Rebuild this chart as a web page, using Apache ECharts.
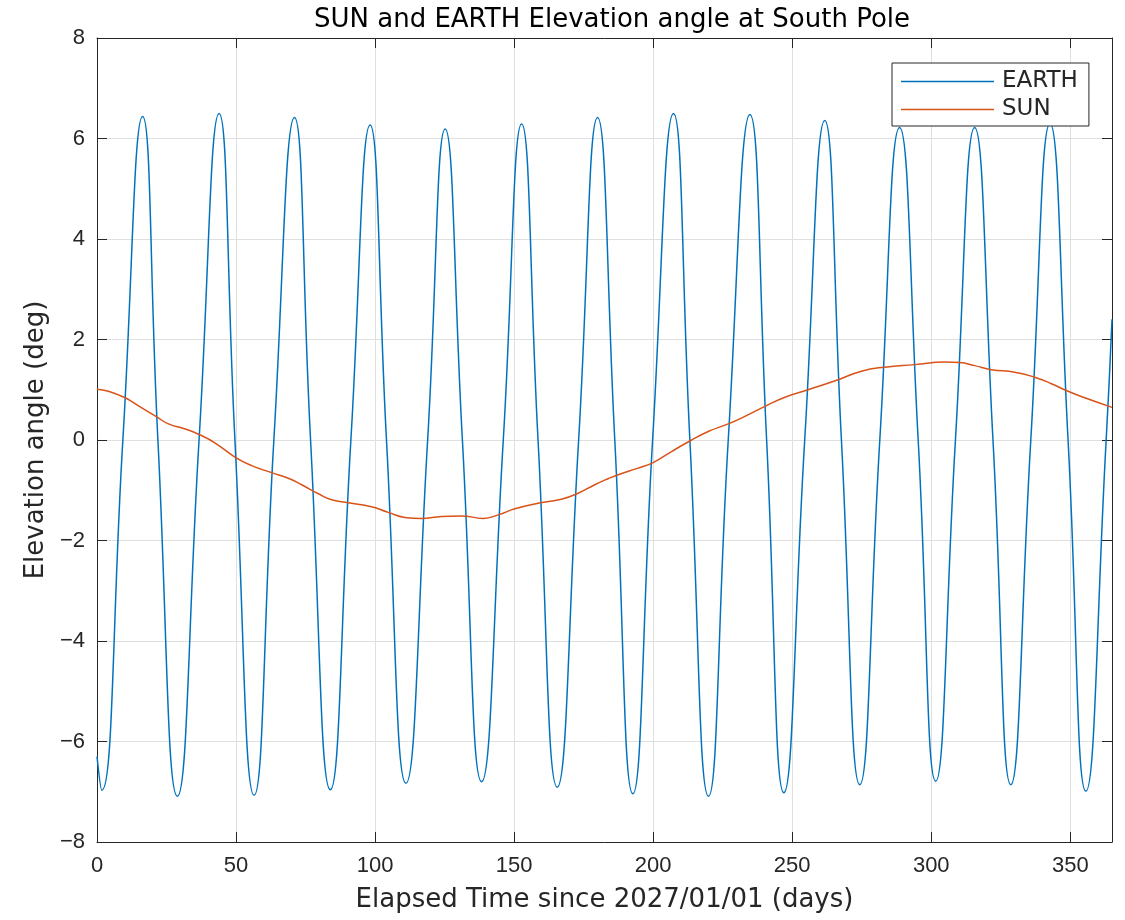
<!DOCTYPE html>
<html>
<head>
<meta charset="utf-8">
<script src="https://cdn.jsdelivr.net/npm/echarts@6/dist/echarts.min.js"></script>
<style>
html,body{margin:0;padding:0;background:#fff;}
#chart{width:1125px;height:920px;}
</style>
</head>
<body>
<div id="chart"></div>
<script>
// EARTH elevation angle (deg): [day, value] read at troughs, zero crossings and peaks
const earthDays = [0, 1.7, 9.3, 16.4, 21.9, 28.9, 36.7, 43.9, 49.6, 56.5, 63.6, 71.0, 76.8, 83.9, 91.3, 98.2, 104.1, 111.1, 118.9, 125.2, 131.4, 138.3, 146.1, 152.7, 158.6, 165.5, 173.2, 180.0, 186.2, 192.7, 199.8, 207.3, 213.2, 219.9, 227.0, 234.8, 240.8, 247.0, 254.5, 261.7, 267.7, 274.3, 281.5, 288.6, 295.3, 301.6, 308.7, 315.6, 322.2, 328.6, 335.8, 342.7, 349.2, 355.6, 362.9, 365];
const earthVals = [-6.3, -6.97, 0, 6.44, 0, -7.09, 0, 6.50, 0, -7.07, 0, 6.42, 0, -6.96, 0, 6.27, 0, -6.83, 0, 6.19, 0, -6.80, 0, 6.29, 0, -6.91, 0, 6.42, 0, -7.04, 0, 6.50, 0, -7.09, 0, 6.48, 0, -7.02, 0, 6.36, 0, -6.86, 0, 6.22, 0, -6.79, 0, 6.22, 0, -6.86, 0, 6.30, 0, -6.99, 0, 2.4];

// SUN elevation angle (deg)
const sunDays = [0, 4.1, 10.1, 14.9, 21.5, 25.7, 31.7, 37.1, 42.5, 49.6, 55.6, 62.8, 68.8, 73.6, 79.6, 84.4, 90.4, 98.7, 104.7, 110.7, 116.7, 123.9, 131.1, 138.9, 144.3, 150.3, 158.6, 167.0, 173.0, 179.0, 183.8, 187.4, 194.6, 200.0, 206.6, 213.2, 219.8, 227.0, 233.0, 240.2, 247.4, 255.7, 266.5, 274.9, 283.3, 294.1, 304.9, 310.2, 315.6, 321.6, 330.0, 337.2, 343.2, 349.2, 355.2, 365];
const sunVals = [1.01, 0.97, 0.84, 0.68, 0.46, 0.32, 0.22, 0.10, -0.06, -0.34, -0.51, -0.65, -0.76, -0.89, -1.07, -1.19, -1.25, -1.33, -1.44, -1.54, -1.56, -1.52, -1.51, -1.56, -1.49, -1.37, -1.26, -1.18, -1.06, -0.89, -0.77, -0.69, -0.56, -0.45, -0.23, -0.02, 0.17, 0.32, 0.47, 0.67, 0.85, 1.00, 1.20, 1.37, 1.45, 1.50, 1.55, 1.54, 1.48, 1.40, 1.35, 1.25, 1.12, 0.97, 0.84, 0.65];

const seriesNames = ['EARTH', 'SUN'];
const titleText = 'SUN and EARTH Elevation angle at South Pole';
const xName = 'Elapsed Time since 2027/01/01 (days)';
const yName = 'Elevation angle (deg)';
const xMin = 0, xMax = 365, xStep = 50;
const yMin = -8, yMax = 8, yStep = 2;

const FONT = 'DejaVu Sans';
const TICKFONT = 'Liberation Sans';
const TXT = '#262626';
const chart = echarts.init(document.getElementById('chart'), null, {renderer: 'canvas'});

const zipPairs = (xs, ys) => xs.map((x, i) => [x, ys[i]]);
const minusFmt = v => String(v).replace('-', '\u2212');

const tickStyle = {show: true, inside: true, length: 10, lineStyle: {color: TXT, width: 1}};
const lineSt = {show: true, onZero: false, lineStyle: {color: TXT, width: 1}};

chart.setOption({
  animation: false,
  backgroundColor: '#ffffff',
  title: {
    text: titleText,
    left: 607, top: 2,
    textAlign: 'center',
    textStyle: {fontFamily: FONT, fontSize: 26, fontWeight: 'normal', color: '#000'}
  },
  grid: {left: 97, right: 13, top: 38, bottom: 78, containLabel: false},
  legend: {
    data: seriesNames.map(n => ({name: n, icon: 'rect'})),
    orient: 'vertical',
    left: 892, top: 63,
    itemWidth: 93, itemHeight: 1.5,
    itemGap: 5,
    padding: [7, 11, 5, 9],
    backgroundColor: '#fff',
    borderColor: TXT, borderWidth: 1,
    textStyle: {fontFamily: FONT, fontSize: 23, color: TXT, lineHeight: 23, padding: [0, 0, 0, 3]}
  },
  xAxis: [{
    type: 'value', min: xMin, max: xMax, interval: xStep,
    name: xName, nameLocation: 'middle', nameGap: 45,
    nameTextStyle: {fontFamily: FONT, fontSize: 26, color: TXT},
    axisLine: lineSt, axisTick: tickStyle,
    axisLabel: {fontFamily: TICKFONT, fontSize: 22, color: TXT, margin: 13, showMaxLabel: false},
    splitLine: {show: true, lineStyle: {color: '#dfdfdf', width: 1}}
  }, {
    type: 'value', min: xMin, max: xMax, interval: xStep, position: 'top',
    axisLine: lineSt, axisTick: tickStyle,
    axisLabel: {show: false}, splitLine: {show: false}
  }],
  yAxis: [{
    type: 'value', min: yMin, max: yMax, interval: yStep,
    name: yName, nameLocation: 'middle', nameGap: 46,
    nameTextStyle: {fontFamily: FONT, fontSize: 26, color: TXT},
    axisLine: lineSt, axisTick: tickStyle,
    axisLabel: {fontFamily: TICKFONT, fontSize: 22, color: TXT, margin: 12, formatter: minusFmt},
    splitLine: {show: true, lineStyle: {color: '#dfdfdf', width: 1}}
  }, {
    type: 'value', min: yMin, max: yMax, interval: yStep, position: 'right',
    axisLine: lineSt, axisTick: tickStyle,
    axisLabel: {show: false}, splitLine: {show: false}
  }],
  series: [{
    name: seriesNames[0], type: 'line', xAxisIndex: 0, yAxisIndex: 0,
    data: zipPairs(earthDays, earthVals),
    smooth: true, showSymbol: false, symbol: 'none',
    lineStyle: {color: '#0072BD', width: 1.5},
    itemStyle: {color: '#0072BD'},
    z: 3
  }, {
    name: seriesNames[1], type: 'line', xAxisIndex: 0, yAxisIndex: 0,
    data: zipPairs(sunDays, sunVals),
    smooth: true, showSymbol: false, symbol: 'none',
    lineStyle: {color: '#D95319', width: 1.5},
    itemStyle: {color: '#D95319'},
    z: 4
  }]
});
</script>
</body>
</html>
